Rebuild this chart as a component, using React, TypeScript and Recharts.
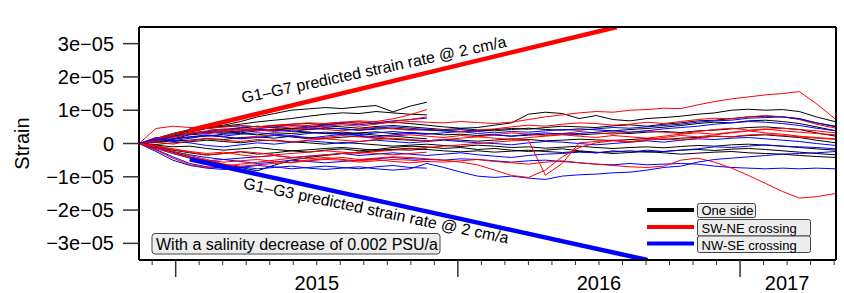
import React from 'react';
import { LineChart, Line, XAxis, YAxis } from 'recharts';

const FONT = 'Liberation Sans, Arial, Helvetica, sans-serif';

// time axis (decimal years)
const times = [
  2014.87, 2014.93, 2014.99, 2015.05, 2015.11, 2015.17, 2015.23, 2015.29, 2015.35, 2015.41,
  2015.47, 2015.53, 2015.59, 2015.65, 2015.71, 2015.77, 2015.83, 2015.89, 2015.95, 2016.01,
  2016.07, 2016.13, 2016.19, 2016.25, 2016.31, 2016.37, 2016.43, 2016.49, 2016.55, 2016.61,
  2016.67, 2016.73, 2016.79, 2016.85, 2016.91, 2016.97, 2017.03, 2017.09, 2017.15, 2017.21,
  2017.27, 2017.34,
];

// strain values in units of 1e-6
// One side (black)
const oneSide1 = [0, 1.2, 2.8, 4.0, 4.8, 5.0, 5.3, 5.0, 5.4, 5.8, 6.0, 5.6, 6.2, 6.5, 6.0, 6.4, 6.0, 5.5, 5.0, 4.6, 4.8, 5.5, 6.2, 8.8, 9.4, 9.0, 7.5, 8.4, 7.2, 6.8, 7.5, 7.8, 8.2, 8.8, 9.2, 10.0, 10.3, 10.0, 10.2, 9.6, 8.0, 6.5];
const oneSide2 = [0, 0.8, 2.0, 3.0, 3.6, 3.4, 3.8, 4.2, 4.0, 4.5, 4.2, 4.6, 4.4, 4.0, 4.3, 4.6, 4.2, 4.0, 3.8, 3.5, 3.8, 4.2, 4.5, 4.3, 4.8, 5.2, 5.0, 4.8, 5.3, 5.6, 5.2, 5.8, 6.2, 6.8, 7.0, 7.5, 8.0, 8.2, 8.0, 7.5, 6.2, 5.0];
const oneSide3 = [0, 0.5, 1.2, 2.0, 2.2, 2.8, 3.0, 2.6, 3.2, 3.0, 3.4, 3.0, 2.8, 3.2, 3.5, 3.0, 3.3, 3.0, 2.6, 2.8, 2.4, 2.6, 2.2, 2.5, 2.8, 3.0, 2.6, 2.9, 3.2, 3.0, 3.4, 3.6, 3.3, 3.8, 4.0, 4.4, 4.8, 5.0, 4.6, 4.2, 3.2, 2.2];
const oneSide4 = [0, 0.3, 0.8, 1.0, 1.5, 1.2, 1.8, 2.0, 1.6, 2.2, 1.8, 1.5, 1.9, 2.2, 1.6, 1.3, 1.0, 0.8, 1.2, 1.0, 0.7, 1.0, 1.4, 1.2, 0.8, 1.0, 1.3, 1.1, 0.9, 1.2, 1.5, 1.2, 1.6, 1.8, 2.2, 2.0, 2.4, 2.6, 2.2, 1.8, 1.0, 0.2];
const oneSide5 = [0, -0.3, 0.2, 0.5, 1.0, 0.6, 0.2, 0.8, 1.0, 0.5, 0.2, -0.2, 0.3, 0.0, -0.4, -0.8, -0.5, -0.2, -0.6, -0.9, -0.5, -0.8, -1.2, -1.0, -1.4, -1.1, -0.8, -1.2, -1.5, -1.2, -1.0, -1.3, -0.9, -0.6, -0.8, -0.4, -0.2, -0.5, -0.8, -1.2, -1.6, -2.0];
const oneSide6 = [0, -0.5, -1.0, -0.8, -1.5, -2.0, -1.6, -1.2, -1.8, -2.2, -1.9, -1.5, -1.2, -1.6, -2.0, -1.8, -1.4, -1.8, -2.2, -2.5, -2.2, -2.6, -2.3, -2.0, -2.4, -2.7, -2.4, -2.8, -2.5, -2.2, -2.6, -2.4, -2.0, -1.8, -2.1, -1.7, -1.5, -1.8, -2.2, -2.6, -3.0, -3.4];
const oneSide7 = [0, -1.0, -2.0, -2.8, -3.5, -3.0, -2.5, -3.2, -2.8, -2.2, -2.6, -2.0, -1.6, -2.2, -1.8, -1.2, -0.8, -1.0, -1.5, -1.2, -1.8, -1.5, -2.0, -2.4, -2.0, -1.6, -2.2, -2.6, -3.0, -2.7, -2.4, -2.8, -3.2, -2.9, -2.6, -2.4, -2.8, -3.0, -3.2, -3.6, -3.9, -4.2];
const oneSide8 = [0, 1.0, 2.2, 3.4, 4.5, 4.0, 4.6, 5.2, 4.8, 4.4, 4.9, 5.3, 5.0, 4.6, 5.1, 5.4, 5.0, 4.6, 4.2, 4.5, 4.1, 3.8, 4.2, 4.6, 4.2, 4.0, 4.4, 4.1, 3.8, 4.2, 4.5, 4.9, 5.4, 6.0, 6.4, 6.2, 6.8, 7.0, 6.6, 6.0, 5.0, 3.8];
const oneSide9 = [0, 1.5, 3.0, 4.2, 5.0, 5.5, 6.6, 8.0, 9.0, 10.0, 10.4, 10.8, 10.5, 11.0, 11.4, 9.5, 11.2, 12.4];
const oneSide10 = [0, 1.0, 2.5, 3.8, 4.6, 5.2, 5.8, 6.5, 7.0, 7.5, 8.2, 8.8, 9.2, 9.0, 9.6, 9.2, 8.8, 8.6];
const oneSide11 = [0, 0.6, 1.4, 2.6, 3.0, 3.6, 3.2, 3.8, 4.2, 3.8, 3.4, 3.0, 3.4, 3.0, 2.5, 2.2, 1.8, 1.4];
const oneSide12 = [0, -1.2, -2.6, -4.0, -5.2, -6.2, -7.2, -8.2, -6.5, -5.0, -4.2, -3.6, -3.0, -2.6, -2.2, -1.8, -2.0, -1.6];

// SW-NE crossing (red)
const swne1 = [0, 4.5, 5.2, 4.8, 4.5, 5.0, 5.4, 5.0, 5.5, 5.8, 6.2, 6.0, 6.4, 6.8, 6.5, 6.2, 6.6, 6.4, 6.2, 6.6, 6.3, 6.0, 6.4, 7.2, 8.0, 8.6, 9.2, 9.6, 9.4, 10.0, 10.2, 10.6, 10.5, 11.6, 12.6, 13.4, 14.0, 14.6, 15.0, 15.6, 12.0, 7.2];
const swne2 = [0, 1.5, 3.0, 4.0, 3.4, 3.8, 4.4, 4.0, 3.6, 4.2, 4.6, 4.2, 3.8, 4.4, 4.8, 4.4, 4.0, 4.3, 4.0, 3.6, 4.0, 4.4, 5.0, 5.5, 5.2, 5.8, 6.2, 6.0, 5.5, 5.8, 6.4, 6.0, 6.6, 7.2, 7.6, 7.4, 8.0, 8.4, 8.0, 7.2, 5.8, 4.6];
const swne3 = [0, 1.0, 2.2, 1.6, 2.4, 2.0, 1.5, 2.2, 2.6, 2.0, 1.4, 1.8, 2.4, 2.0, 1.6, 2.2, 2.6, 2.2, 1.8, 2.4, 2.0, 2.6, 3.2, 2.8, 2.4, 3.0, 3.6, 3.2, 2.8, 3.4, 3.8, 3.4, 3.0, 3.6, 4.2, 4.6, 4.0, 4.4, 3.8, 3.4, 3.0, 2.6];
const swne4 = [0, -0.8, -1.8, -2.6, -3.4, -3.0, -2.4, -2.8, -3.4, -3.0, -2.6, -2.2, -2.6, -3.0, -2.4, -2.0, -1.6, -1.2, -0.8, -0.4, 0.0, 0.4, 0.8, 1.0, -9.5, -6.0, 0.2, 0.6, 1.0, 0.6, 1.2, 1.8, 2.4, 2.0, 2.6, 3.2, 3.8, 4.2, 4.6, 4.2, 3.8, 3.2];
const swne5 = [0, -1.5, -3.0, -4.2, -5.0, -5.6, -5.2, -4.8, -5.4, -5.8, -5.2, -4.8, -5.0, -5.6, -5.2, -4.8, -5.0, -5.4, -5.6, -5.2, -4.8, -5.4, -5.8, -6.2, -5.6, -5.2, -5.8, -6.2, -6.6, -7.0, -7.2, -6.8, -5.0, -4.4, -5.6, -7.4, -9.6, -12.0, -14.4, -16.4, -16.0, -15.0];
const swne6 = [0, -1.0, -2.4, -3.6, -4.8, -6.2, -6.8, -6.4, -6.0, -5.6, -5.0, -4.6, -4.2, -4.8, -4.4, -4.0, -4.2, -4.6, -5.0, -5.6, -6.4, -8.0, -9.6, -10.2, -8.0, -4.0, -1.2, 0.2, 0.8, 0.4, 1.0, 1.4, 1.0, 1.6, 2.2, 2.0, 2.6, 2.8, 2.4, 2.0, 1.6, 1.2];
const swne7 = [0, 0.5, -0.2, 0.8, 1.4, 1.0, 0.6, 1.2, 0.8, 0.4, 1.0, 1.4, 1.0, 0.6, 1.2, 1.6, 1.2, 0.8, 1.2, 1.6, 2.0, 1.6, 1.2, 1.8, 2.2, 2.6, 2.2, 1.8, 2.4, 2.0, 1.6, 2.2, 2.8, 3.2, 2.8, 3.4, 3.8, 3.2, 2.8, 2.2, 1.8, 1.4];
const swne8 = [0, 0.6, 1.8, 3.0, 3.8, 4.4, 4.0, 4.6, 5.2, 5.6, 5.4, 6.0, 6.4, 6.0, 6.6, 7.4, 8.6, 10.2];
const swne9 = [0, 1.2, 2.6, 3.4, 3.0, 3.6, 4.2, 3.8, 4.4, 5.0, 4.6, 5.2, 5.6, 5.2, 5.8, 6.6, 7.2, 8.0];
const swne10 = [0, -0.6, -1.6, -2.4, -3.0, -2.6, -3.4, -4.0, -3.6, -4.2, -4.6, -4.2, -4.8, -5.2, -4.8, -5.4, -5.8, -5.4];
const swne11 = [0, -2.0, -4.4, -6.4, -7.2, -6.8, -6.2, -5.6, -5.0, -4.4, -3.8, -3.4, -3.0, -2.6, -3.0, -3.4, -3.0, -2.6];

// NW-SE crossing (blue)
const nwse1 = [0, 1.2, 2.0, 2.8, 3.4, 3.0, 3.6, 4.2, 4.0, 3.6, 4.2, 4.8, 4.4, 4.0, 4.6, 5.0, 4.6, 4.2, 3.8, 4.2, 3.6, 3.2, 3.6, 3.4, 3.8, 4.2, 4.0, 4.4, 4.8, 4.6, 5.0, 5.4, 5.8, 6.4, 6.8, 7.0, 7.6, 7.8, 8.0, 7.4, 6.2, 5.2];
const nwse2 = [0, 0.6, 1.4, 2.0, 2.6, 2.2, 2.8, 3.2, 2.8, 2.4, 3.0, 3.4, 3.0, 2.6, 3.2, 3.6, 3.2, 2.8, 3.2, 3.6, 3.0, 2.6, 2.2, 2.8, 3.2, 2.8, 3.0, 3.4, 3.8, 3.4, 3.8, 4.4, 4.8, 5.2, 5.8, 6.2, 6.6, 6.4, 6.0, 5.4, 4.6, 3.8];
const nwse3 = [0, 1.8, 0.6, 0.2, -0.6, -1.0, -0.4, 0.2, -0.2, 0.4, 0.8, 0.4, 0.0, 0.6, 1.0, 0.6, 0.2, 0.6, 1.0, 0.6, 0.2, 0.0, -0.4, 0.2, 0.6, 0.4, 0.0, -0.4, 0.0, 0.4, 0.8, 0.4, 1.0, 1.4, 1.2, 1.6, 1.8, 1.4, 1.0, 0.6, 0.0, -0.6];
const nwse4 = [0, -1.0, -2.4, -3.4, -4.2, -4.8, -4.4, -4.0, -3.6, -4.2, -3.8, -3.4, -3.0, -3.6, -3.2, -2.8, -3.2, -3.6, -3.2, -2.8, -3.4, -3.8, -4.2, -3.6, -3.2, -3.0, -2.6, -2.8, -2.2, -2.6, -2.0, -2.4, -2.0, -1.6, -1.0, -1.2, -0.8, -0.4, -0.8, -1.0, -1.2, -1.6];
const nwse5 = [0, -1.4, -3.0, -4.4, -5.2, -4.8, -5.4, -6.0, -5.6, -5.0, -5.4, -5.8, -5.4, -5.0, -4.6, -4.2, -4.6, -4.8, -5.0, -4.6, -4.8, -5.2, -5.6, -5.2, -5.0, -5.4, -5.8, -6.2, -6.4, -6.0, -6.4, -6.2, -6.0, -6.2, -6.8, -7.2, -7.4, -7.6, -7.4, -7.6, -7.4, -7.6];
const nwse6 = [0, -1.8, -4.0, -6.0, -7.0, -7.4, -7.0, -7.6, -7.2, -6.8, -7.4, -7.8, -7.4, -7.0, -7.6, -8.0, -7.6, -6.0, -7.2, -8.6, -9.8, -10.2, -9.8, -10.4, -10.8, -9.8, -9.4, -9.2, -8.8, -8.6, -8.0, -7.2, -6.8, -5.6, -4.8, -4.4, -4.0, -3.6, -3.2, -3.0, -2.8, -2.4];
const nwse7 = [0, 0.8, 2.0, 3.0, 3.6, 4.2, 4.8, 4.4, 5.0, 5.4, 5.0, 5.6, 6.0, 5.6, 6.2, 6.8, 7.2, 7.6];
const nwse8 = [0, -2.4, -5.0, -6.6, -7.4, -7.8, -7.2, -6.6, -7.0, -7.6, -7.2, -6.8, -7.2, -7.6, -7.0, -6.6, -7.2, -7.4];
const nwse9 = [0, 1.4, 0.8, 1.6, 2.4, 2.0, 1.4, 1.8, 2.4, 2.0, 1.6, 2.2, 2.8, 2.4, 2.0, 2.6, 3.0, 2.8];

// predicted strain-rate lines (start, end)
const predictedG1G7 = [{ t: 2015.05, v: 4.0 }, { t: 2016.563, v: 35 }];
const predictedG1G3 = [{ t: 2015.05, v: -4.75 }, { t: 2016.672, v: -35 }];

const yTickValues = [30, 20, 10, 0, -10, -20, -30];
const yTickLabels = ['3e−05', '2e−05', '1e−05', '0', '−1e−05', '−2e−05', '−3e−05'];
const yearTicks = [2015, 2016, 2017];
const yearLabels = ['2015', '2016', '2017'];
const yearLabelPos = [2015.5, 2016.5, 2017 + 2 / 12];
const legendNames = ['One side', 'SW-NE crossing', 'NW-SE crossing'];
const legendColors = ['#000000', '#ff0000', '#0000ff'];

const monthTicks: number[] = [];
for (let yr = 2014; yr <= 2017; yr++) {
  for (let m = 0; m < 12; m++) {
    const v = yr + m / 12;
    if (v > 2014.88 && v < 2017.345) monthTicks.push(v);
  }
}

const blackSeries = [oneSide1, oneSide2, oneSide3, oneSide4, oneSide5, oneSide6, oneSide7, oneSide8, oneSide9, oneSide10, oneSide11, oneSide12];
const redSeries = [swne1, swne2, swne3, swne4, swne5, swne6, swne7, swne8, swne9, swne10, swne11];
const blueSeries = [nwse1, nwse2, nwse3, nwse4, nwse5, nwse6, nwse7, nwse8, nwse9];

const seriesList: { key: string; color: string; values: number[] }[] = [];
blackSeries.forEach((v, i) => seriesList.push({ key: 'k' + i, color: '#000000', values: v }));
redSeries.forEach((v, i) => seriesList.push({ key: 'r' + i, color: '#ff0000', values: v }));
blueSeries.forEach((v, i) => seriesList.push({ key: 'b' + i, color: '#0000ff', values: v }));

// interleave drawing order a little
const drawOrder = [
  'k0', 'k1', 'k2', 'k3', 'k4', 'k5', 'k6', 'k7', 'k8', 'k9', 'k10', 'k11',
  'r2', 'b2', 'r6', 'b3', 'r3', 'b1', 'r1', 'b4', 'r4', 'b5', 'r5', 'b0', 'r0', 'b6', 'r7', 'b7', 'r8', 'b8', 'r9', 'r10',
];

const data = times.map((t, i) => {
  const row: Record<string, number | null> = { t };
  seriesList.forEach((s) => {
    row[s.key] = i < s.values.length ? s.values[i] : null;
  });
  return row;
});

const BottomTick = (props: any) => {
  const { x, y, payload } = props;
  const v = payload.value;
  const isYear = yearTicks.some((yv) => Math.abs(yv - v) < 1e-3);
  const li = yearLabelPos.findIndex((p) => Math.abs(p - v) < 1e-3);
  return (
    <g>
      <line x1={x} x2={x} y1={y} y2={y + (isYear ? 17 : 5)} stroke="#333" strokeWidth={isYear ? 1.5 : 1} />
      {li >= 0 && (
        <text x={x} y={y + 30} textAnchor="middle" fontSize={20} fontFamily={FONT} fill="#000">
          {yearLabels[li]}
        </text>
      )}
    </g>
  );
};

export default function App() {
  const byKey: Record<string, { key: string; color: string; values: number[] }> = {};
  seriesList.forEach((s) => (byKey[s.key] = s));
  return (
    <div style={{ position: 'absolute', left: 0, top: 0, width: 844, height: 293, background: '#fff' }}>
      <LineChart width={844} height={293} data={data} margin={{ top: 0, right: 0, bottom: 0, left: 0 }}>
        <XAxis
          xAxisId="b"
          dataKey="t"
          type="number"
          domain={[2014.87, 2017.34]}
          allowDataOverflow
          ticks={monthTicks}
          interval={0}
          tickSize={0}
          tickMargin={0}
          tickLine={false}
          tick={<BottomTick />}
          height={33}
          axisLine={{ stroke: '#000', strokeWidth: 2 }}
        />
        <XAxis
          xAxisId="t"
          orientation="top"
          dataKey="t"
          type="number"
          domain={[2014.87, 2017.34]}
          allowDataOverflow
          ticks={yearTicks}
          interval={0}
          tickSize={17}
          tick={false}
          tickLine={{ stroke: '#333', strokeWidth: 1.5 }}
          height={27}
          axisLine={{ stroke: '#000', strokeWidth: 2 }}
        />
        <YAxis
          yAxisId="l"
          type="number"
          domain={[-35, 35]}
          allowDataOverflow
          ticks={yTickValues}
          interval={0}
          tickSize={16}
          tickMargin={9}
          width={139}
          tickFormatter={(v: number) => yTickLabels[yTickValues.indexOf(v)] ?? ''}
          tick={{ fontSize: 20, fontFamily: FONT, fill: '#000' }}
          tickLine={{ stroke: '#333', strokeWidth: 1.5 }}
          axisLine={{ stroke: '#000', strokeWidth: 2 }}
        />
        <YAxis
          yAxisId="r"
          orientation="right"
          type="number"
          domain={[-35, 35]}
          allowDataOverflow
          ticks={yTickValues}
          interval={0}
          tickSize={7}
          tick={false}
          width={8}
          tickLine={{ stroke: '#333', strokeWidth: 1.5 }}
          axisLine={{ stroke: '#000', strokeWidth: 2 }}
        />
        {drawOrder.map((k) => (
          <Line
            key={k}
            xAxisId="b"
            yAxisId="l"
            type="linear"
            dataKey={k}
            stroke={byKey[k].color}
            strokeWidth={1}
            dot={false}
            activeDot={false}
            connectNulls={false}
            isAnimationActive={false}
          />
        ))}
        <Line
          xAxisId="b"
          yAxisId="l"
          data={predictedG1G7}
          dataKey="v"
          stroke="#ff0000"
          strokeWidth={4.5}
          dot={false}
          activeDot={false}
          isAnimationActive={false}
        />
        <Line
          xAxisId="b"
          yAxisId="l"
          data={predictedG1G3}
          dataKey="v"
          stroke="#0000ff"
          strokeWidth={4.5}
          dot={false}
          activeDot={false}
          isAnimationActive={false}
        />
      </LineChart>
      <svg
        width={844}
        height={293}
        style={{ position: 'absolute', left: 0, top: 0, pointerEvents: 'none' }}
        fontFamily={FONT}
      >
        <text x={22} y={143.5} transform="rotate(-90 22 143.5)" textAnchor="middle" dominantBaseline="central" fontSize={20}>
          Strain
        </text>
        <text x={375} y={75} transform="rotate(-12.1 375 75)" textAnchor="middle" fontSize={16}>
          G1–G7 predicted strain rate @ 2 cm/a
        </text>
        <text x={375} y={216} transform="rotate(11.8 375 216)" textAnchor="middle" fontSize={16}>
          G1–G3 predicted strain rate @ 2 cm/a
        </text>
        <rect x={152} y={233.5} width={288} height={20.5} rx={3} fill="#ededed" stroke="#444" strokeWidth={1} />
        <text x={156} y={249.5} fontSize={16}>
          With a salinity decrease of 0.002 PSU/a
        </text>
        {legendNames.map((name, i) => {
          const cy = [210, 227, 243.5][i];
          const bw = i === 0 ? 58 : 113;
          const by = [203.5, 219.5, 236][i];
          const bh = [14, 16.5, 16.5][i];
          return (
            <g key={name}>
              <line x1={647} x2={694} y1={cy} y2={cy} stroke={legendColors[i]} strokeWidth={4} />
              <rect x={697.5} y={by} width={bw} height={bh} rx={2} fill="#ededed" stroke="#444" strokeWidth={1} />
              <text x={701.5} y={by + bh - 3} fontSize={13}>
                {name}
              </text>
            </g>
          );
        })}
      </svg>
    </div>
  );
}
